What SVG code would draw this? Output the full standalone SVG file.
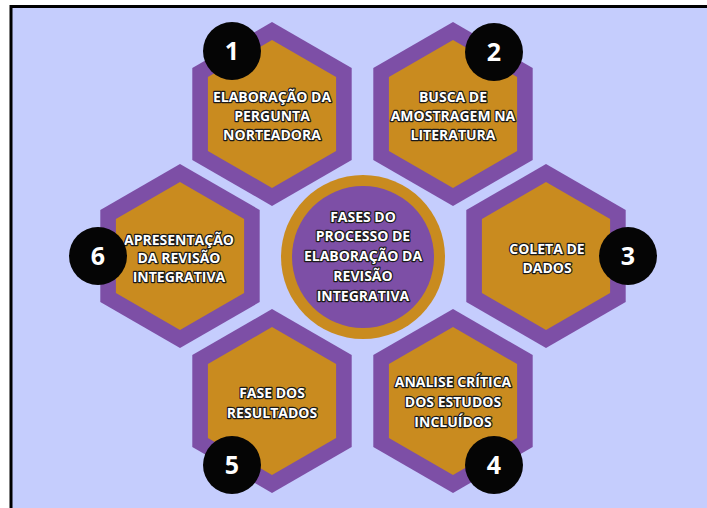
<svg xmlns="http://www.w3.org/2000/svg" xmlns:xlink="http://www.w3.org/1999/xlink" width="707" height="508" viewBox="0 0 707 508">
  <style>
    .hex-outer { fill: #7d4fa6; }
    .hex-inner { fill: #c98b1f; }
    .label { font-family: "Open Sans", "Liberation Sans", sans-serif; font-weight: 700; font-size: 14px; fill: #ffffff; stroke: #1a1a1a; stroke-width: 2.4px; stroke-linejoin: round; paint-order: stroke fill; text-anchor: middle; }
    .badge { fill: #050505; }
    .num { font-family: "Open Sans", "Liberation Sans", sans-serif; font-weight: 700; font-size: 25px; fill: #ffffff; text-anchor: middle; }
  </style>
  <defs>
    <polygon id="hexO" points="0,-92 79.7,-46 79.7,46 0,92 -79.7,46 -79.7,-46"/>
    <polygon id="hexI" points="0,-74 64.1,-37 64.1,37 0,74 -64.1,37 -64.1,-37"/>
  </defs>

  <!-- page and framed panel -->
  <rect x="0" y="0" width="707" height="508" fill="#ffffff"/>
  <rect x="11" y="6.5" width="720" height="520" fill="#c5cdfd" stroke="#000000" stroke-width="3"/>

  <!-- centre title -->
  <g id="centro">
    <circle cx="363" cy="257" r="82" fill="#c98b1f"/>
    <circle cx="363" cy="257" r="71" fill="#7d4fa6"/>
    <text class="label" x="363" y="222">FASES DO</text>
    <text class="label" x="363" y="241">PROCESSO DE</text>
    <text class="label" x="363" y="261">ELABORAÇÃO DA</text>
    <text class="label" x="363" y="281">REVISÃO</text>
    <text class="label" x="363" y="301">INTEGRATIVA</text>
  </g>

  <!-- phase 1 -->
  <g id="fase1">
    <use href="#hexO" class="hex-outer" x="272" y="114"/>
    <use href="#hexI" class="hex-inner" x="272" y="114"/>
    <text class="label" x="272" y="102">ELABORAÇÃO DA</text>
    <text class="label" x="272" y="121">PERGUNTA</text>
    <text class="label" x="272" y="140">NORTEADORA</text>
    <circle class="badge" cx="232" cy="51" r="29"/>
    <text class="num" x="232" y="60">1</text>
  </g>

  <!-- phase 2 -->
  <g id="fase2">
    <use href="#hexO" class="hex-outer" x="453" y="114"/>
    <use href="#hexI" class="hex-inner" x="453" y="114"/>
    <text class="label" x="453" y="102">BUSCA DE</text>
    <text class="label" x="453" y="121">AMOSTRAGEM NA</text>
    <text class="label" x="453" y="140">LITERATURA</text>
    <circle class="badge" cx="494" cy="52" r="29"/>
    <text class="num" x="494" y="61">2</text>
  </g>

  <!-- phase 3 -->
  <g id="fase3">
    <use href="#hexO" class="hex-outer" x="546" y="256"/>
    <use href="#hexI" class="hex-inner" x="546" y="256"/>
    <text class="label" x="547" y="254">COLETA DE</text>
    <text class="label" x="547" y="273">DADOS</text>
    <circle class="badge" cx="628" cy="256" r="29"/>
    <text class="num" x="628" y="265">3</text>
  </g>

  <!-- phase 4 -->
  <g id="fase4">
    <use href="#hexO" class="hex-outer" x="453" y="401"/>
    <use href="#hexI" class="hex-inner" x="453" y="401"/>
    <text class="label" x="453" y="387">ANALISE CRÍTICA</text>
    <text class="label" x="453" y="407">DOS ESTUDOS</text>
    <text class="label" x="453" y="427">INCLUÍDOS</text>
    <circle class="badge" cx="494" cy="465" r="29"/>
    <text class="num" x="494" y="474">4</text>
  </g>

  <!-- phase 5 -->
  <g id="fase5">
    <use href="#hexO" class="hex-outer" x="272" y="401"/>
    <use href="#hexI" class="hex-inner" x="272" y="401"/>
    <text class="label" x="272" y="398">FASE DOS</text>
    <text class="label" x="272" y="418">RESULTADOS</text>
    <circle class="badge" cx="232" cy="465" r="29"/>
    <text class="num" x="232" y="474">5</text>
  </g>

  <!-- phase 6 -->
  <g id="fase6">
    <use href="#hexO" class="hex-outer" x="180" y="256"/>
    <use href="#hexI" class="hex-inner" x="180" y="256"/>
    <text class="label" x="179" y="245">APRESENTAÇÃO</text>
    <text class="label" x="179" y="263">DA REVISÃO</text>
    <text class="label" x="179" y="282">INTEGRATIVA</text>
    <circle class="badge" cx="98" cy="256" r="29"/>
    <text class="num" x="98" y="265">6</text>
  </g>
</svg>
